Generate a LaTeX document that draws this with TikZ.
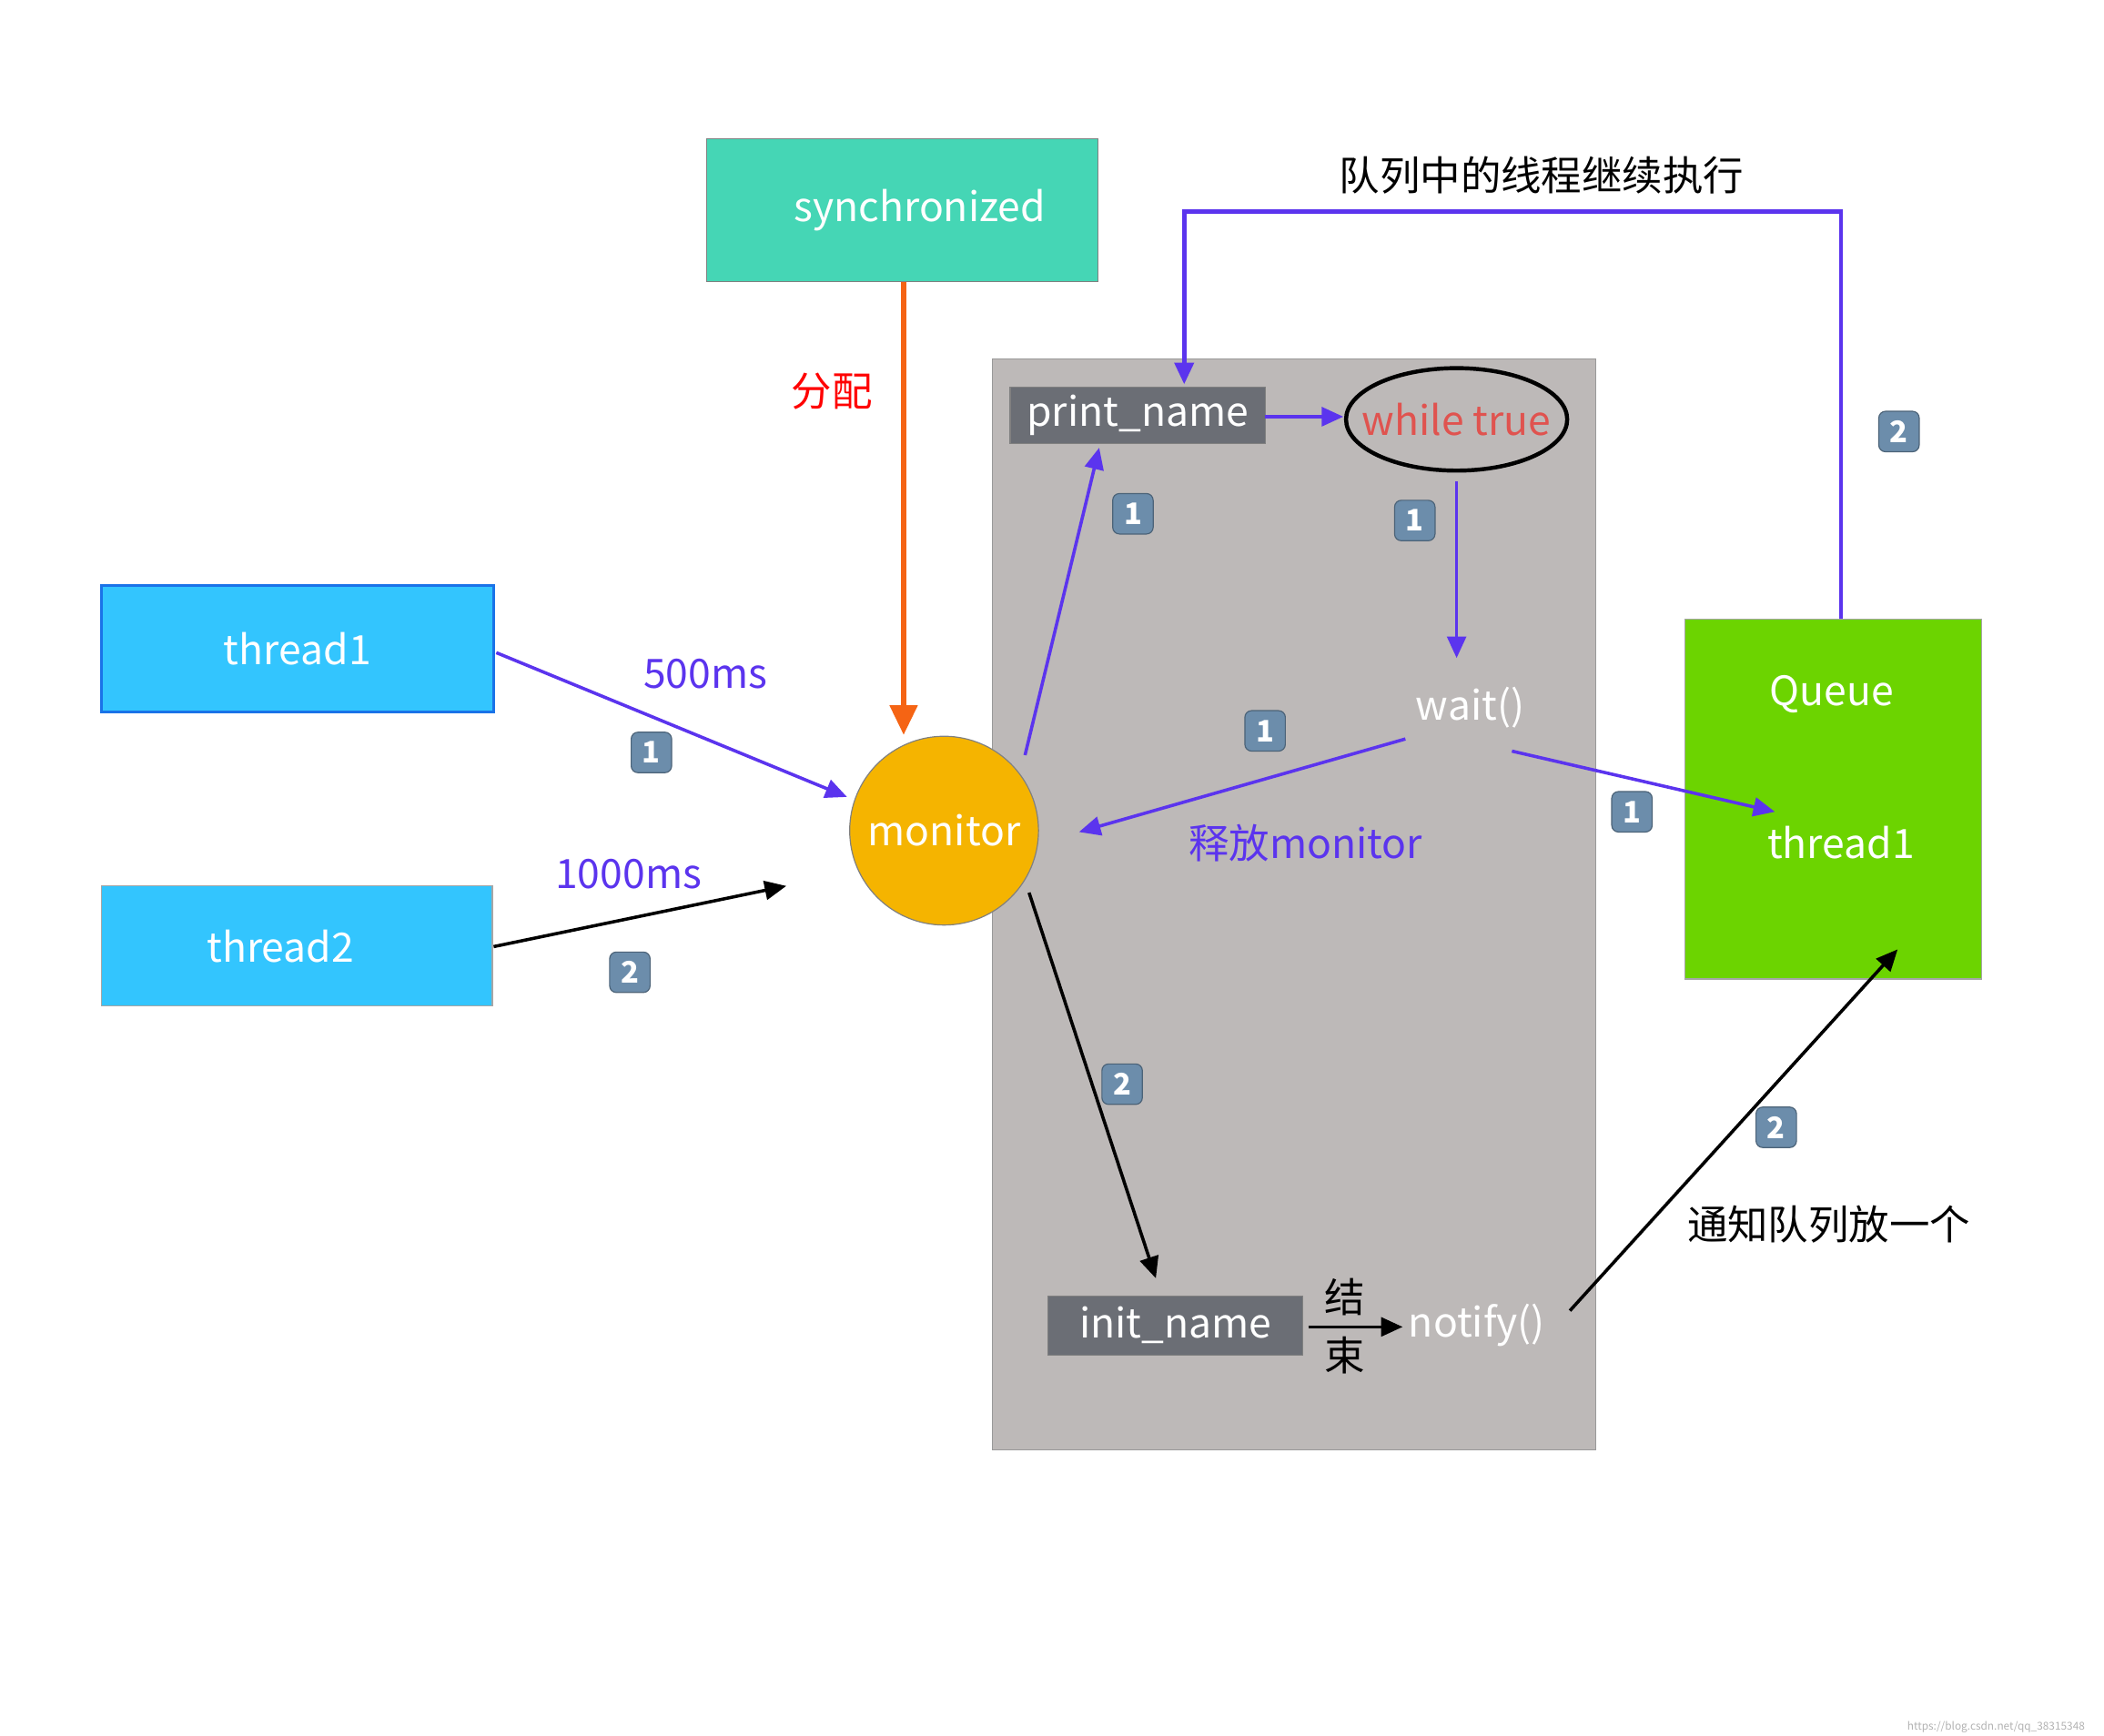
\documentclass[tikz,border=0pt]{standalone}
\usepackage{fontspec}
\setmainfont{Noto Sans CJK SC}
\usetikzlibrary{arrows.meta,shapes.geometric}
\definecolor{pur}{HTML}{5B34EE}
\definecolor{cyanb}{HTML}{33C5FE}
\definecolor{badge}{HTML}{6C8DAB}
\begin{document}
\begin{tikzpicture}[x=0.5pt,y=-0.5pt,font=\fontsize{15}{18}\selectfont,
  bd/.style={fill=badge,draw=badge!70!black,rounded corners=2.5pt,minimum size=15pt,inner sep=0,text=white,font=\fontsize{11}{12}\selectfont\bfseries},
  pa/.style={draw=pur,line width=1.2pt,-{Triangle[length=8pt,width=7pt]}},
  ba/.style={draw=black,line width=1.2pt,-{Triangle[length=8pt,width=7pt]}}]
\useasboundingbox (0,0) rectangle (1560,1287);
\fill[white] (0,0) rectangle (1560,1287);
% gray container
\node[draw=gray!80,fill={rgb,255:red,189;green,185;blue,184},minimum width=223.5pt,minimum height=404.5pt,inner sep=0] (cont) at (959.5,670.5) {};
\node[draw=gray,fill={rgb,255:red,69;green,214;blue,181},minimum width=145pt,minimum height=53pt,text=white] (sync) at (669,156) {\hspace{13pt}synchronized};
\node[fill={rgb,255:red,107;green,110;blue,117},draw=gray,minimum width=94.5pt,minimum height=21pt,inner sep=0,text=white] (pn) at (843.5,308) {print\_name};
\node[draw=black,line width=1.5pt,ellipse,minimum width=82pt,minimum height=38pt,inner xsep=-9pt,inner ysep=0pt,text={rgb,255:red,224;green,83;blue,79}] (wt) at (1080,311) {while true};
\node[fill=cyanb,draw={rgb,255:red,26;green,115;blue,232},line width=1pt,minimum width=145.5pt,minimum height=47pt,text=white] (t1) at (220.5,481) {thread1};
\node[fill=cyanb,draw=gray!70,minimum width=145pt,minimum height=44.5pt,text=white] (t2) at (220,701.5) {\hspace{-12pt}thread2};
\node[circle,fill={rgb,255:red,245;green,180;blue,0},draw=gray,minimum size=70pt,inner sep=0,text=white] (mon) at (700,616) {monitor};
\node[fill={rgb,255:red,108;green,212;blue,0},draw=gray!70,minimum width=110pt,minimum height=133.5pt,inner sep=0] (q) at (1359,592.5) {};
\node[text=white] (qt) at (1358,515) {Queue};
\node[text=white] (qt1) at (1365,625) {thread1};
\node[text=white] (wait) at (1090,525) {wait()};
\node[fill={rgb,255:red,107;green,110;blue,117},draw=gray,minimum width=94.5pt,minimum height=22pt,inner sep=0,text=white] (in) at (871.5,983) {init\_name};
\node[text=white] (nt) at (1095,983) {notify()};
\node (jie) at (997,962) {结};
\node (shu) at (997,1005) {束};
% labels
\node[text=red] (fp) at (617,290) {分配};
\node[text=pur] (l500) at (523,500) {500ms};
\node[text=pur] (l1000) at (466,648) {1000ms};
\node[text=pur] (sf) at (968,625) {释放monitor};
\node (dl) at (1143,130) {队列中的线程继续执行};
\node (tz) at (1356,908) {通知队列放一个};
\node[text=gray!60,font=\fontsize{4}{5}\selectfont] (wm) at (1480,1281) {https://blog.csdn.net/qq\_38315348};
% badges
\node[bd] (b1) at (483,558) {1};
\node[bd] (b2) at (467,721) {2};
\node[bd] (b3) at (840,381) {1};
\node[bd] (b4) at (1049,386) {1};
\node[bd] (b5) at (938,542) {1};
\node[bd] (b6) at (1210,602) {1};
\node[bd] (b7) at (1408,320) {2};
\node[bd] (b8) at (832,804) {2};
\node[bd] (b9) at (1317,836) {2};
% coordinates
\coordinate (o1) at (670,209); \coordinate (o2) at (670,545);
\coordinate (a1) at (368,484); \coordinate (a2) at (628,591);
\coordinate (c1) at (366,702); \coordinate (c2) at (583,657);
\coordinate (d1) at (760,560); \coordinate (d2) at (815,332);
\coordinate (e1) at (938,309); \coordinate (e2) at (996,309);
\coordinate (f1) at (1080,357); \coordinate (f2) at (1080,488);
\coordinate (g1) at (1042,548); \coordinate (g2) at (800,617);
\coordinate (h1) at (1121,557); \coordinate (h2) at (1316,602);
\coordinate (i1) at (1365,459); \coordinate (i2) at (878,285);
\coordinate (j1) at (763,662); \coordinate (j2) at (857,948);
\coordinate (k1) at (970,984); \coordinate (k2) at (1040,984);
\coordinate (m1) at (1164,972); \coordinate (m2) at (1407,704);
\draw[draw={rgb,255:red,245;green,100;blue,20},line width=2pt,-{Triangle[length=11pt,width=10pt]}] (o1) -- (o2);
\draw[pa] (a1) -- (a2);
\draw[ba] (c1) -- (c2);
\draw[pa] (d1) -- (d2);
\draw[pa] (e1) -- (e2);
\draw[pa] (f1) -- (f2);
\draw[pa] (g1) -- (g2);
\draw[pa] (h1) -- (h2);
\draw[pa,line width=1.6pt] (i1) -- (1365,157) -- (878,157) -- (i2);
\draw[ba] (j1) -- (j2);
\draw[ba] (k1) -- (k2);
\draw[ba] (m1) -- (m2);
\end{tikzpicture}
\end{document}
